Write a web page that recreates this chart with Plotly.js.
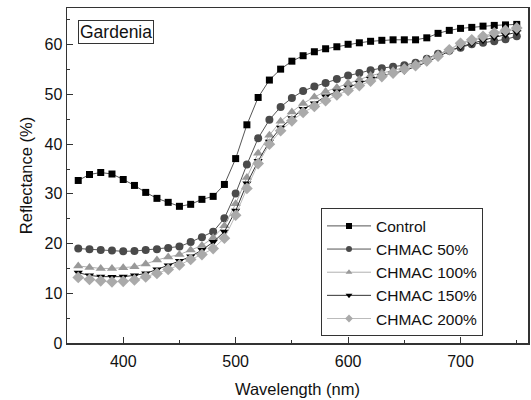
<!DOCTYPE html>
<html>
<head>
<meta charset="utf-8">
<script src="https://cdn.plot.ly/plotly-3.0.1.min.js"></script>
<style>html,body{margin:0;padding:0;background:#fff;}#chart{width:531px;height:400px;}</style>
</head>
<body>
<div id="chart"></div>
<script>
const wavelength = [360,370,380,390,400,410,420,430,440,450,460,470,480,490,500,510,520,530,540,550,560,570,580,590,600,610,620,630,640,650,660,670,680,690,700,710,720,730,740,750];
const control = [32.7,33.9,34.3,34.0,32.9,31.7,30.3,29.1,28.3,27.5,27.9,28.9,29.5,31.9,37.1,43.9,49.4,52.9,55.1,56.7,57.8,58.6,59.2,59.6,60.1,60.4,60.7,60.9,61.0,61.0,61.0,61.4,62.3,62.9,63.3,63.5,63.75,63.9,64.0,64.1];
const chmac50 = [19.0,18.85,18.7,18.6,18.45,18.5,18.7,18.85,19.1,19.4,20.3,21.3,22.4,25.1,30.1,35.9,41.2,44.9,47.5,49.3,50.7,51.6,52.3,53.1,53.8,54.3,54.9,55.3,55.6,55.9,56.4,57.2,58.2,58.8,59.4,60.1,60.4,60.7,61.1,61.7];
const chmac100 = [15.5,15.2,15.0,15.0,15.15,15.35,15.9,16.7,17.3,17.8,18.7,19.6,21.2,23.6,28.0,33.3,38.2,41.8,44.6,46.5,48.2,49.5,50.6,51.4,52.3,53.0,53.8,54.3,54.8,55.4,56.1,57.1,58.0,59.0,60.3,60.8,61.45,62.1,62.7,63.2];
const chmac150 = [14.15,13.6,13.35,13.3,13.35,13.6,14.0,14.8,15.6,16.5,17.4,18.7,20.3,22.4,26.6,32.1,36.6,40.5,43.3,45.2,47.1,48.2,49.6,50.6,51.4,52.3,53.1,53.7,54.3,54.8,55.6,56.5,57.6,58.7,59.6,60.3,60.9,61.5,62.0,62.5];
const chmac200 = [13.2,12.8,12.5,12.3,12.4,12.7,13.3,14.0,14.8,15.7,16.8,17.8,19.0,21.1,25.7,31.1,36.1,40.0,42.7,44.7,46.4,47.6,48.75,49.9,50.8,51.8,52.7,53.6,54.3,55.1,55.8,56.75,57.7,59.0,60.3,61.0,61.7,62.4,62.9,63.4];
const seriesNames = ['Control','CHMAC 50%','CHMAC 100%','CHMAC 150%','CHMAC 200%'];
const xTitle = 'Wavelength (nm)';
const yTitle = 'Reflectance (%)';
const label = 'Gardenia';

const font = 'Arial, "Liberation Sans", sans-serif';
const styles = [
  ['square', '#000000', '#555555', 7],
  ['circle', '#4a4a4a', '#555555', 8],
  ['triangle-up', '#999999', '#b0b0b0', 9],
  ['triangle-down', '#000000', '#333333', 8],
  ['diamond', '#aaaaaa', '#bbbbbb', 9]
];
const ys = [control, chmac50, chmac100, chmac150, chmac200];
const data = [];
ys.forEach((y, i) => {
  const s = styles[i];
  data.push({x: wavelength, y: y, name: seriesNames[i], type: 'scatter', mode: 'lines+markers',
    showlegend: false, line: {color: s[2], width: 1},
    marker: {symbol: s[0], color: s[1], size: s[3], line: {width: 0}}});
});
// legend-only entries with small symbols, as in the reference
ys.forEach((y, i) => {
  const s = styles[i];
  data.push({x: [null], y: [null], name: seriesNames[i], type: 'scatter', mode: 'lines+markers',
    showlegend: true, line: {color: s[2], width: 1},
    marker: {symbol: s[0], color: s[1], size: 6, line: {width: 0}}});
});
const axisCommon = {showgrid: false, zeroline: false, showline: true, linecolor: '#333', linewidth: 1.5,
  mirror: true, ticks: 'inside', ticklen: 6, tickwidth: 1, tickcolor: '#333',
  tickfont: {family: font, size: 16, color: '#111'}};
const layout = {
  width: 531, height: 400,
  margin: {l: 67, r: 3, t: 8, b: 57},
  paper_bgcolor: '#fff', plot_bgcolor: '#fff',
  font: {family: font, color: '#111'},
  showlegend: true,
  legend: {x: 0.551, y: 0.402, xanchor: 'left', yanchor: 'top', bgcolor: '#fff',
    bordercolor: '#333', borderwidth: 1, font: {family: font, size: 15.5, color: '#111'},
    tracegroupgap: 0, itemwidth: 44},
  xaxis: Object.assign({}, axisCommon, {range: [350, 760], tickvals: [400,500,600,700],
    ticklabelstandoff: 3,
    minor: {dtick: 50, tick0: 350, ticks: 'inside', ticklen: 3, tickcolor: '#333'},
    title: {text: xTitle, font: {family: font, size: 16.5, color: '#111'}, standoff: 14}}),
  yaxis: Object.assign({}, axisCommon, {range: [0, 67.4], tickvals: [0,10,20,30,40,50,60],
    minor: {dtick: 5, tick0: 0, ticks: 'inside', ticklen: 3, tickcolor: '#333'},
    title: {text: yTitle, font: {family: font, size: 16.5, color: '#111'}, standoff: 7}}),
  annotations: [{text: label, xref: 'paper', yref: 'paper', x: 0.023, y: 0.965, xanchor: 'left', yanchor: 'top',
    showarrow: false, font: {family: font, size: 17.5, color: '#111'}, bordercolor: '#333', borderwidth: 1,
    borderpad: 1, bgcolor: '#fff'}]
};
Plotly.newPlot('chart', data, layout, {displayModeBar: false, staticPlot: true});
</script>
</body>
</html>
